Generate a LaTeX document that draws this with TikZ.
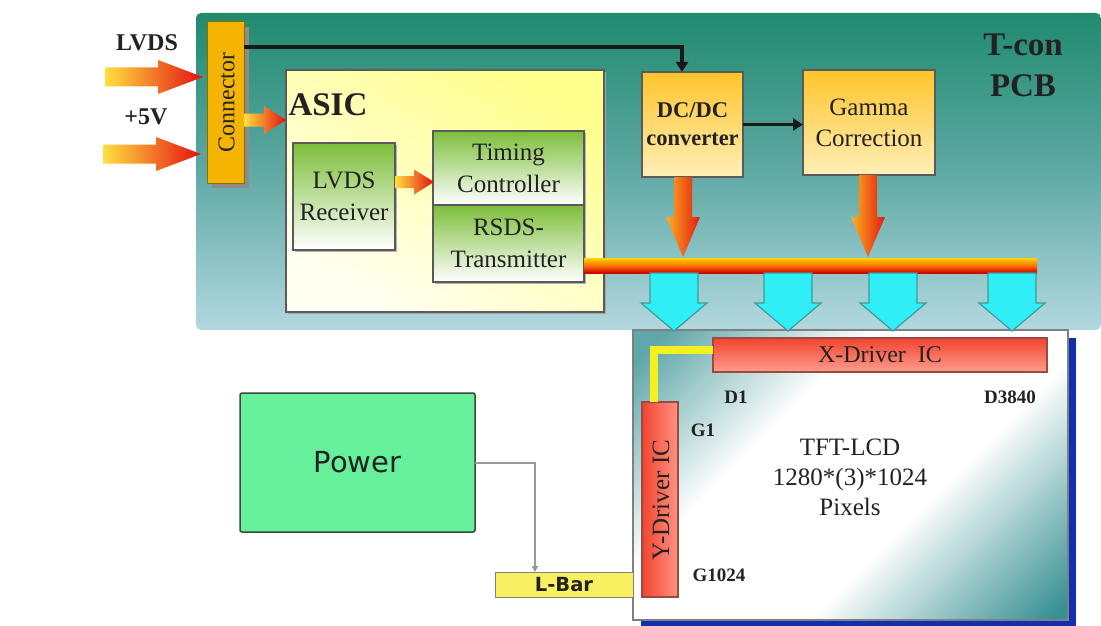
\documentclass[tikz,border=0pt]{standalone}
\usepackage{fontspec}
\setmainfont{Liberation Serif}
\newfontfamily\dejavu{DejaVu Sans}
\usetikzlibrary{calc,arrows.meta,shadows}
\definecolor{pcbtop}{HTML}{1F8A6E}
\definecolor{pcbmid}{HTML}{5FA9A4}
\definecolor{pcbbot}{HTML}{B2D8DF}
\definecolor{conncol}{HTML}{F5B400}
\definecolor{connedge}{HTML}{8C6D00}
\definecolor{asictop}{HTML}{FFFF8C}
\definecolor{asicbot}{HTML}{FFFFF2}
\definecolor{greentop}{HTML}{7DBE3A}
\definecolor{orgtop}{HTML}{FFC42A}
\definecolor{orgbot}{HTML}{FFEFB8}
\definecolor{bustop}{HTML}{FFD400}
\definecolor{busmid}{HTML}{FF7000}
\definecolor{busbot}{HTML}{C80000}
\definecolor{redl}{HTML}{FFE040}
\definecolor{redr}{HTML}{E41010}
\definecolor{orgl}{HTML}{FFB020}
\definecolor{orgr}{HTML}{E21A10}
\definecolor{cyanf}{HTML}{30EEF6}
\definecolor{cyane}{HTML}{3C9C9C}
\definecolor{panelteal}{HTML}{2C8A8C}
\definecolor{panelblue}{HTML}{1030B0}
\definecolor{drvtop}{HTML}{F2442F}
\definecolor{drvbot}{HTML}{FF9C8C}
\definecolor{drvedge}{HTML}{9A4A40}
\definecolor{yel}{HTML}{F5F020}
\definecolor{powf}{HTML}{66F09C}
\definecolor{powe}{HTML}{3A4A3A}
\definecolor{lbarf}{HTML}{F8F060}
\definecolor{txtc}{HTML}{222222}
\definecolor{boxedge}{HTML}{5A5A5A}
\pgfdeclareverticalshading{panelshade}{100bp}{color(0bp)=(panelteal); color(16bp)=(panelteal!95); color(40bp)=(white); color(62bp)=(white); color(82bp)=(panelteal!75); color(100bp)=(panelteal!75)}
% horizontal fat arrow (rightwards): style, tail, tip, shaft half, head half, head length
\newcommand\fatH[6]{\path[#1] let \p1=(#2), \p2=(#3) in (\x1,\y2+#4pt) -- (\x2-#6pt,\y2+#4pt) -- (\x2-#6pt,\y2+#5pt) -- (\x2,\y2) -- (\x2-#6pt,\y2-#5pt) -- (\x2-#6pt,\y2-#4pt) -- (\x1,\y2-#4pt) -- cycle;}
% vertical fat arrow (downwards)
\newcommand\fatV[6]{\path[#1] let \p1=(#2), \p2=(#3) in (\x2-#4pt,\y1) -- (\x2-#4pt,\y2+#6pt) -- (\x2-#5pt,\y2+#6pt) -- (\x2,\y2) -- (\x2+#5pt,\y2+#6pt) -- (\x2+#4pt,\y2+#6pt) -- (\x2+#4pt,\y1) -- cycle;}
\tikzset{
  sz/.style 2 args={minimum width=#1pt, minimum height=#2pt},
  txt/.style={font=\fontsize{25}{32}\selectfont, text=txtc, align=center},
  pcbs/.style={top color=pcbtop, bottom color=pcbbot, middle color=pcbmid, rounded corners=5pt},
  connb/.style={fill=conncol, draw=connedge, line width=1pt, drop shadow={shadow xshift=5pt, shadow yshift=-5pt, fill=gray!90, opacity=1}},
  asicb/.style={top color=asictop, bottom color=asicbot, shading angle=-30, draw=boxedge, line width=1.5pt, drop shadow={shadow xshift=2pt, shadow yshift=-2pt, fill=gray!70, opacity=1}},
  greenb/.style={txt, top color=greentop, bottom color=white, draw=boxedge, line width=1.5pt, drop shadow={shadow xshift=2pt, shadow yshift=-2pt, fill=gray!60, opacity=1}},
  orgb/.style={txt, top color=orgtop, bottom color=orgbot, draw=boxedge, line width=1.5pt},
  busb/.style={top color=bustop, bottom color=busbot, middle color=busmid},
  redarrow/.style={left color=redl, right color=redr},
  orgarrow/.style={left color=orgl, right color=orgr},
  cyanarrow/.style={fill=cyanf, draw=cyane, line width=1.2pt, line join=miter},
  blk/.style={draw=black!90, line width=3.5pt, -{Triangle[length=10pt,width=12pt]}},
  panelb/.style={shading=panelshade, shading angle=45, draw=gray, line width=1.2pt, drop shadow={shadow xshift=8pt, shadow yshift=-8pt, fill=panelblue, opacity=1}},
  drvb/.style={txt, top color=drvtop, bottom color=drvbot, draw=drvedge, line width=1.2pt},
  drvbv/.style={left color=drvtop, right color=drvbot!90!drvtop, draw=drvedge, line width=1.2pt},
  yelline/.style={draw=yel, line width=8pt, line join=miter},
  lbl/.style={font=\fontsize{19}{22}\selectfont\bfseries, text=txtc},
  bigb/.style={font=\fontsize{33}{41}\selectfont\bfseries, text=txtc, align=center},
  inb/.style={font=\fontsize{24}{28}\selectfont\bfseries, text=txtc},
  powb/.style={fill=powf, draw=powe, line width=1.5pt, rounded corners=2pt, font=\dejavu\fontsize{29}{34}\selectfont, text=txtc},
  lbarb/.style={fill=lbarf, draw=gray, line width=1pt, font=\dejavu\bfseries\fontsize{19.5}{22}\selectfont, text=txtc},
  pline/.style={draw=gray!80, line width=2pt, -{Triangle[length=6pt,width=6pt,fill=black!80]}}
}
\begin{document}
\begin{tikzpicture}[x=1pt,y=-1pt, every node/.style={inner sep=0pt, outer sep=0pt}]
\useasboundingbox (0,0) rectangle (1101,626);
\fill[white] (0,0) rectangle (1101,626);
% PCB
\node[pcbs, sz={905}{317}] (pcb) at (648.5,171.5) {};
\node[bigb] (tcon) at (1023,65) {T-con\\PCB};
% Connector
\node[connb, sz={37}{161}] (conn) at (225.5,102.5) {};
\node[txt, rotate=90, font=\fontsize{24}{28}\selectfont, text=black!85] (connlbl) at (226.5,102.5) {Connector};
% inputs
\node[inb] (lvdsin) at (147,43) {LVDS};
\node[inb] (vin) at (146,117) {+5V};
\coordinate (lvdstail) at (105,77);
\coordinate (lvdstip) at (203,77);
\coordinate (vtail) at (103,154);
\coordinate (vtip) at (201,154);
\fatH{redarrow}{lvdstail}{lvdstip}{9.5}{17}{45}
\fatH{redarrow}{vtail}{vtip}{9.5}{17}{45}
% ASIC
\node[asicb, sz={318}{242}] (asic) at (445,191) {};
\node[font=\fontsize{33}{36}\selectfont\bfseries, text=txtc] (asiclbl) at (328,105) {ASIC};
\coordinate (asictip) at (286,120);
\fatH{redarrow}{conn.east}{asictip}{6.5}{14}{22}
\node[greenb, sz={102}{107}] (rx) at (344,196.5) {LVDS\\Receiver};
\node[greenb, sz={151}{74}] (tc) at (508.5,168) {Timing\\Controller};
\node[greenb, sz={151}{77}] (rsds) at (508.5,243.5) {RSDS-\\Transmitter};
\coordinate (tctip) at (434,182);
\fatH{redarrow}{rx.east}{tctip}{6}{12.5}{20}
% DC/DC and Gamma
\node[orgb, sz={101}{105}, font=\fontsize{22.5}{28}\selectfont\bfseries] (dcdc) at (692.5,124.5) {DC/DC\\converter};
\node[orgb, sz={132}{105}, font=\fontsize{25}{31}\selectfont] (gamma) at (869,122.5) {Gamma\\Correction};
\draw[blk] ($(conn.north east)+(0,25)$) -| ($(dcdc.north)+(-10.5,0)$);
\draw[blk] (dcdc.east) -- (dcdc.east -| gamma.west);
% orange arrows and bus
\coordinate (o1) at (683,257);
\coordinate (o2) at (868,257);
\fatV{orgarrow}{dcdc.south}{o1}{9}{17}{40}
\fatV{orgarrow}{gamma.south}{o2}{9}{17}{40}
\node[busb, sz={453}{15}] (bus) at (810.5,265.5) {};
% panel
\node[panelb, sz={435}{290}] (panel) at (850.5,475) {};
\node[drvb, sz={334}{34}, font=\fontsize{24}{28}\selectfont] (xdrv) at (880,355) {X-Driver\ \ IC};
\node[drvbv, sz={36}{195}] (ydrv) at (660,499.5) {};
\node[txt, rotate=90, font=\fontsize{25}{28}\selectfont] (ylbl) at (661,500) {Y-Driver IC};
\draw[yelline] ($(xdrv.west)+(0,-5)$) -| ($(ydrv.north)+(-6,0)$);
\node[lbl] (d1) at (736,397) {D1};
\node[lbl] (d3840) at (1010,397) {D3840};
\node[lbl] (g1) at (703,430) {G1};
\node[lbl] (g1024) at (719,575) {G1024};
\node[txt, font=\fontsize{25}{30}\selectfont] (tft) at (850,477) {TFT-LCD\\1280*(3)*1024\\Pixels};
% cyan arrows
\coordinate (c1) at (674,331);
\coordinate (c2) at (788,331);
\coordinate (c3) at (893,331);
\coordinate (c4) at (1012,331);
\fatV{cyanarrow}{bus.south}{c1}{24}{33}{28}
\fatV{cyanarrow}{bus.south}{c2}{24}{33}{28}
\fatV{cyanarrow}{bus.south}{c3}{24}{33}{28}
\fatV{cyanarrow}{bus.south}{c4}{24}{33}{28}
% power
\node[powb, sz={235}{139}] (power) at (357.5,462.5) {Power};
\node[lbarb, sz={138}{25}] (lbar) at (564,584.5) {L-Bar};
\draw[pline] (power.east) -| ($(lbar.north west)+(40,0)$);
\end{tikzpicture}
\end{document}
